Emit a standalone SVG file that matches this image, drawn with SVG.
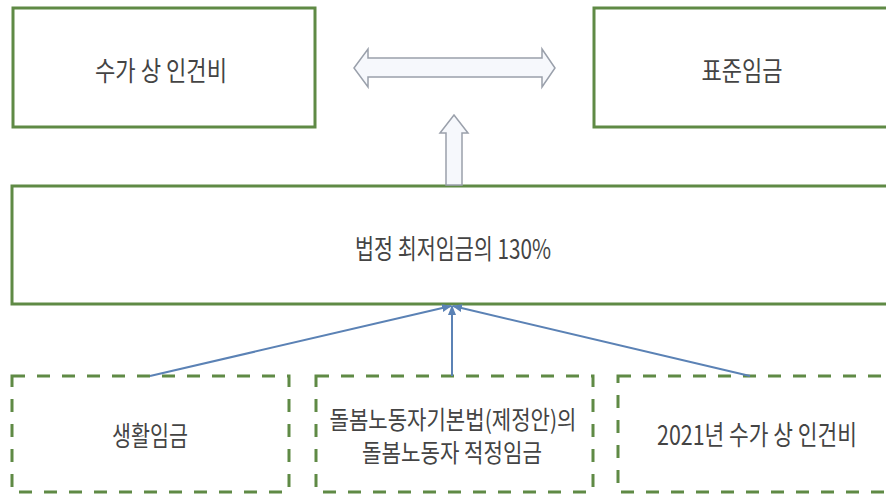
<svg xmlns="http://www.w3.org/2000/svg" width="886" height="494" viewBox="0 0 886 494">
<defs>
<style>
.box{fill:#ffffff;stroke:#5f8a45;stroke-width:3}
.dbox{fill:#ffffff;stroke:#5f8a45;stroke-width:3;stroke-dasharray:13 12}
.t{font-family:"Noto Sans CJK KR","Noto Sans",sans-serif;font-size:27px;fill:#444444;text-anchor:middle}
.t2{font-family:"Noto Sans CJK KR","Noto Sans",sans-serif;font-size:25px;fill:#444444;text-anchor:middle}
.con{stroke:#5b82b5;stroke-width:2;fill:none;marker-end:url(#ah)}
.big{fill:#f6f8fc;stroke:#9aa0ab;stroke-width:1.5}
</style>
<marker id="ah" viewBox="0 0 10 10" refX="9" refY="5" markerWidth="5" markerHeight="5" orient="auto-start-reverse" markerUnits="strokeWidth">
<path d="M0,1 L10,5 L0,9 Z" fill="#5b82b5"/>
</marker>
</defs>
<rect width="886" height="494" fill="#ffffff"/>
<g id="node-top-left">
<rect class="box" x="13" y="8" width="302" height="119"/>
<text class="t" x="161" y="81" textLength="132" lengthAdjust="spacingAndGlyphs">수가 상 인건비</text>
</g>
<g id="node-top-right">
<rect class="box" x="594" y="8" width="310" height="119"/>
<text class="t" x="742" y="81" textLength="81" lengthAdjust="spacingAndGlyphs">표준임금</text>
</g>
<g id="node-middle">
<rect class="box" x="12" y="186" width="900" height="118"/>
<text class="t" x="453" y="259" textLength="196" lengthAdjust="spacingAndGlyphs">법정 최저임금의 130%</text>
</g>
<g id="node-bottom-left">
<rect class="dbox" x="12" y="376" width="277" height="116"/>
<text class="t" x="150" y="446" textLength="76" lengthAdjust="spacingAndGlyphs">생활임금</text>
</g>
<g id="node-bottom-middle">
<rect class="dbox" x="316" y="376" width="277" height="116"/>
<text class="t2" x="453" y="429" textLength="247" lengthAdjust="spacingAndGlyphs">돌봄노동자기본법(제정안)의</text>
<text class="t2" x="452" y="462" textLength="180" lengthAdjust="spacingAndGlyphs">돌봄노동자 적정임금</text>
</g>
<g id="node-bottom-right">
<rect class="dbox" x="618" y="376" width="300" height="116"/>
<text class="t" x="757" y="445" textLength="200" lengthAdjust="spacingAndGlyphs">2021년 수가 상 인건비</text>
</g>
<g id="connectors">
<polygon class="big" points="354,68 368,49 368,58 542,58 542,49 555,68 542,87 542,77 368,77 368,87"/>
<polygon class="big" points="454,115 468,133 462,133 462,185 446,185 446,133 440,133"/>
<line class="con" x1="150" y1="376" x2="451" y2="306"/>
<line class="con" x1="452" y1="376" x2="452" y2="306"/>
<line class="con" x1="750" y1="376" x2="453" y2="306"/>
</g>
</svg>
